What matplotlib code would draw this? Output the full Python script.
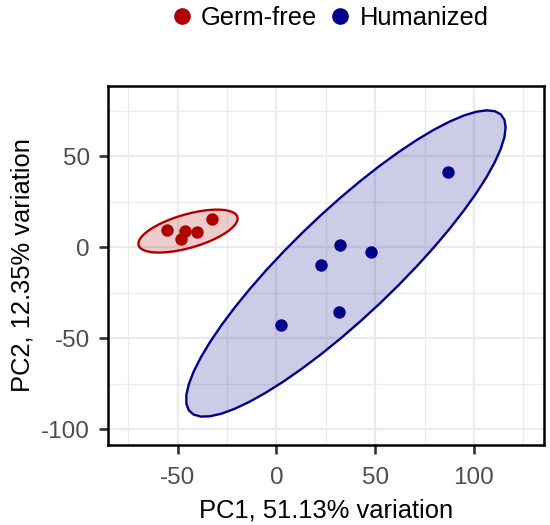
import numpy as np
import matplotlib.pyplot as plt
from matplotlib.lines import Line2D
from matplotlib.patches import Polygon

plt.rcParams['font.family'] = ['Liberation Sans', 'DejaVu Sans']
plt.rcParams['axes.unicode_minus'] = False

# PCA scores
germ_free_pc1 = [-55.6, -46.3, -48.3, -40.3, -32.7]
germ_free_pc2 = [9.7, 8.8, 4.8, 8.2, 15.6]
humanized_pc1 = [2.5, 22.4, 32.2, 47.8, 31.5, 86.8]
humanized_pc2 = [-43.0, -9.9, 1.1, -2.5, -35.5, 41.4]

groups = ["Germ-free", "Humanized"]
line_colors = {"Germ-free": "#B00000", "Humanized": "#00008B"}

x_ticks = [-50, 0, 50, 100]
y_ticks = [-100, -50, 0, 50]
x_label = "PC1, 51.13% variation"
y_label = "PC2, 12.35% variation"


def cov_trob(x, nu=5, maxit=25, tol=0.01):
    # same idea as MASS::cov.trob, used by ggplot's stat_ellipse(type = "t")
    n, p = x.shape
    wt = np.ones(n)
    loc = x.mean(axis=0)
    w = np.sqrt(wt)
    for _ in range(maxit):
        w0 = w
        X = x - loc
        _, d, vt = np.linalg.svd(np.sqrt(w / w.sum())[:, None] * X, full_matrices=False)
        wX = X @ vt.T @ np.diag(1 / d)
        Q = (wX ** 2).sum(axis=1)
        w = wt * (nu + p) / (nu + Q)
        loc = (w[:, None] * x).sum(axis=0) / w.sum()
        if np.all(np.abs(w - w0) < tol):
            break
    X = x - loc
    cov = (np.sqrt(w)[:, None] * X).T @ (np.sqrt(w)[:, None] * X) / wt.sum()
    return loc, cov


def ellipse_points(xs, ys, level=0.95, segments=51):
    data = np.column_stack([xs, ys])
    dfn, dfd = 2, len(xs) - 1
    center, shape = cov_trob(data)
    # F quantile for dfn = 2 has a closed form
    fq = dfd / 2 * ((1 - level) ** (-2 / dfd) - 1)
    radius = np.sqrt(dfn * fq)
    chol = np.linalg.cholesky(shape).T
    ang = np.linspace(0, 2 * np.pi, segments + 1)
    unit = np.column_stack([np.cos(ang), np.sin(ang)])
    return center + radius * (unit @ chol)


fig = plt.figure(figsize=(5.5, 5.25), dpi=100)
ax = fig.add_axes([0.1964, 0.1524, 0.7928, 0.6838])

series = {"Germ-free": (germ_free_pc1, germ_free_pc2),
          "Humanized": (humanized_pc1, humanized_pc2)}

for g in groups:
    xs, ys = series[g]
    ell = ellipse_points(xs, ys)
    ax.add_patch(Polygon(ell, closed=True, facecolor=line_colors[g], alpha=0.2,
                         edgecolor="none", zorder=2))
    ax.add_patch(Polygon(ell, closed=True, facecolor="none",
                         edgecolor=line_colors[g], linewidth=1.7, zorder=3))
    ax.scatter(xs, ys, s=80, color=line_colors[g], zorder=4, linewidths=0)

ax.set_xlim(-85.2, 135.5)
ax.set_ylim(-108.8, 88.8)
ax.set_xticks(x_ticks)
ax.set_yticks(y_ticks)
ax.set_xticks([-75, -25, 25, 75, 125], minor=True)
ax.set_yticks([-75, -25, 25, 75], minor=True)
ax.grid(which="major", color="#EBEBEB", linewidth=1.6, zorder=0)
ax.grid(which="minor", color="#EBEBEB", linewidth=0.9, zorder=0)
ax.set_axisbelow(True)
ax.tick_params(which="minor", length=0)
ax.tick_params(which="major", length=6.5, width=1.9, color="#333333",
               labelsize=17.5, labelcolor="#4D4D4D", pad=6.5)
ax.tick_params(axis="x", which="major", pad=9)
for sp in ax.spines.values():
    sp.set_linewidth(1.8)
    sp.set_color("black")

ax.set_xlabel(x_label, fontsize=18.4, labelpad=7)
ax.set_ylabel(y_label, fontsize=18.4, labelpad=5)

handles = [Line2D([], [], linestyle="none", marker="o", markersize=12,
                  markerfacecolor=line_colors[g], markeredgewidth=0)
           for g in groups]
fig.legend(handles, groups, loc="center", bbox_to_anchor=(0.6, 0.966), ncol=2,
           frameon=False, fontsize=18.4, handlelength=0.8, handletextpad=0.35,
           columnspacing=0.5)

fig.savefig("out.png", dpi=100)
